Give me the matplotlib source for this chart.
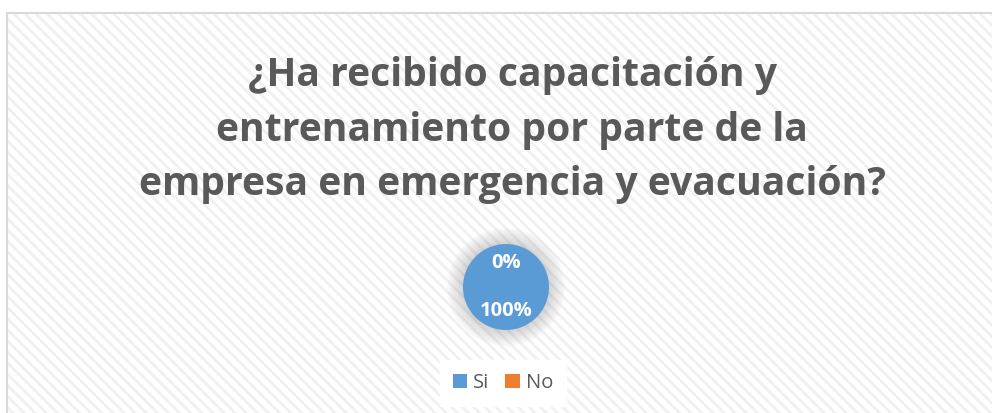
import numpy as np
import matplotlib.pyplot as plt
from matplotlib.patches import Rectangle, Circle, Patch

# datos
categorias = ["Si", "No"]
valores = [100, 0]
colores = ["#5B9BD5", "#ED7D31"]
titulo = "¿Ha recibido capacitación y\nentrenamiento por parte de la\nempresa en emergencia y evacuación?"

W, H = 992, 413
fig = plt.figure(figsize=(W / 100, H / 100), dpi=100)
fig.set_facecolor('white')

# fondo rayado del grafico
plt.rcParams['hatch.linewidth'] = 2.0
fondo = Rectangle((7 / W, 0), 1.0, (H - 13) / H, transform=fig.transFigure,
                  facecolor='white', edgecolor='#f0f0f0', hatch='\\\\\\', lw=0, zorder=-3)
fig.patches.append(fondo)
borde = Rectangle((7 / W, -0.05), 1.1, (H - 13) / H + 0.05, transform=fig.transFigure,
                  facecolor='none', edgecolor='#d9d9d9', lw=1.5, zorder=-2)
fig.patches.append(borde)

fig.text(512 / W, (H - 130) / H, titulo, ha='center', va='center', fontsize=28.2,
         fontweight='bold', color='#595959', family='Open Sans', linespacing=1.52)

# pie
r = 43
lim = 1.8
ax = fig.add_axes([(506 - r * lim) / W, (H - 287 - r * lim) / H, 2 * r * lim / W, 2 * r * lim / H])
ax.patch.set_alpha(0)
for k in range(20):
    ax.add_patch(Circle((0, 0), 1 + 0.02 * k, facecolor='#909090', alpha=0.018,
                        lw=0, zorder=0))
wedges, _, autotexts = ax.pie(valores, colors=colores, startangle=90, counterclock=False,
                              autopct='%1.0f%%', pctdistance=0.55,
                              textprops=dict(color='white', fontweight='bold', fontsize=14.5,
                                             family='Open Sans'))
for w in wedges:
    w.set_zorder(2)
for t in autotexts:
    t.set_zorder(3)
ax.set_xlim(-lim, lim)
ax.set_ylim(-lim, lim)
ax.set_aspect('equal')
ax.axis('off')

handles = [Patch(facecolor=c, edgecolor='none') for c in colores]
leg = fig.legend(handles, categorias, loc='center', bbox_to_anchor=(503 / W, (H - 383) / H),
                 ncol=2, frameon=True, fancybox=False, facecolor='white', edgecolor='white',
                 framealpha=1, handlelength=0.7, handleheight=0.7, handletextpad=0.3,
                 columnspacing=0.8, borderpad=0.65,
                 prop=dict(family='Open Sans', size=14.5))
for t in leg.get_texts():
    t.set_color('#595959')

fig.savefig('out.png', dpi=100)
